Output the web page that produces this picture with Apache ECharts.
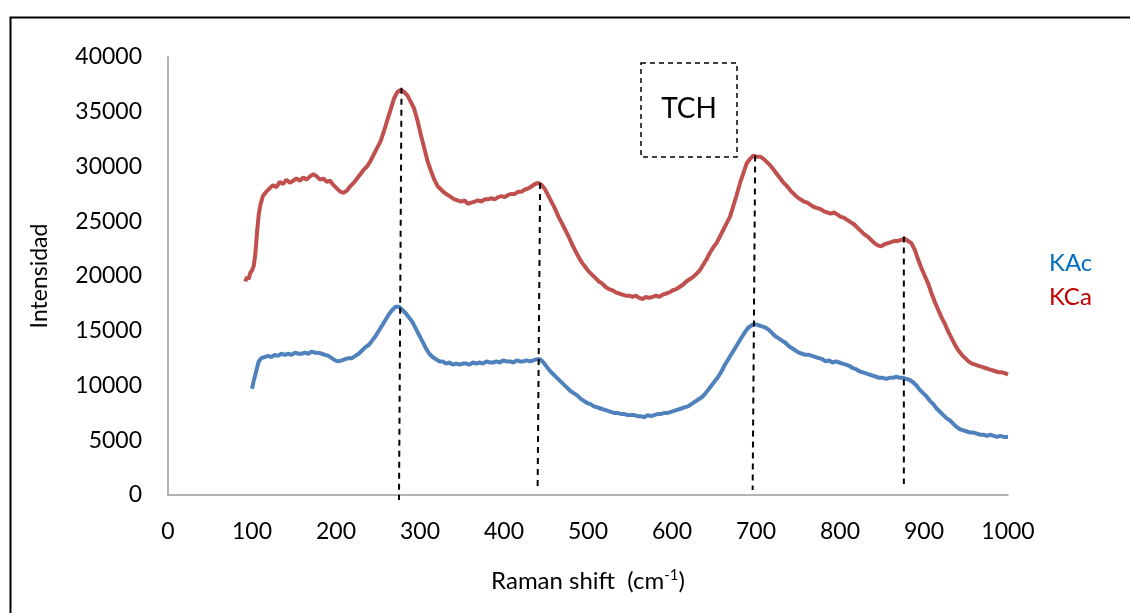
<!DOCTYPE html>
<html>
<head>
<meta charset="utf-8">
<script src="https://cdn.jsdelivr.net/npm/echarts@6/dist/echarts.min.js"></script>
<style>
  html, body { margin: 0; padding: 0; background: #fff; }
  #chart { width: 1130px; height: 613px; }
</style>
</head>
<body>
<div id="chart"></div>
<script>
// Raman spectra (Raman shift in cm-1, intensity in counts)
const kcaSpectrum = [
  [92,19500],[94,19900],[96,19700],[98,20300],[100,20500],[102,20900],[104,22000],[106,24000],[108,25600],[110,26500],
  [113,27300],[117,27700],[121,28000],[125,28300],[129,28100],[133,28600],[137,28400],[141,28800],[145,28500],[149,28700],
  [153,28900],[157,28700],[161,29000],[165,28800],[169,29100],[173,29300],[177,29100],[181,28800],[185,28900],[189,28600],
  [193,28700],[197,28300],[201,28000],[205,27700],[209,27600],[213,27800],[217,28200],[221,28500],[225,28900],[229,29300],
  [233,29700],[237,30000],[241,30500],[245,31100],[249,31700],[253,32300],[257,33200],[261,34200],[265,35200],[269,36200],
  [273,36800],[277,37000],[281,36800],[285,36500],[289,35900],[293,35300],[297,34200],[301,32900],[305,31700],[309,30500],
  [313,29600],[317,28800],[321,28200],[325,27900],[329,27600],[333,27400],[337,27200],[341,27000],[345,26900],[349,26800],
  [353,26900],[357,26600],[361,26700],[365,26800],[369,26900],[373,26800],[377,27000],[381,27000],[385,27100],[389,27000],
  [393,27200],[397,27300],[401,27200],[405,27400],[409,27500],[413,27500],[417,27700],[421,27700],[425,27900],[429,28000],
  [433,28200],[437,28400],[441,28500],[445,28300],[449,27900],[453,27300],[457,26700],[461,26100],[465,25400],[469,24800],
  [473,24200],[477,23600],[481,22900],[485,22300],[489,21700],[493,21200],[497,20800],[501,20400],[505,20100],[509,19800],
  [513,19500],[517,19300],[521,19000],[525,18800],[529,18700],[533,18500],[537,18400],[541,18300],[545,18200],[549,18200],
  [553,18100],[557,18200],[561,18000],[565,17900],[569,18100],[573,18000],[577,18100],[581,18200],[585,18100],[589,18300],
  [593,18400],[597,18500],[601,18700],[605,18800],[609,19000],[613,19200],[617,19500],[621,19700],[625,19900],[629,20200],
  [633,20500],[637,21000],[641,21500],[645,22100],[649,22600],[653,23000],[657,23600],[661,24200],[665,24800],[669,25400],
  [673,26400],[677,27400],[681,28500],[685,29400],[689,30300],[693,30700],[697,31000],[701,30900],[705,30900],[709,30700],
  [713,30400],[717,30100],[721,29700],[725,29300],[729,28900],[733,28500],[737,28200],[741,27800],[745,27500],[749,27200],
  [753,27000],[757,26800],[761,26700],[765,26500],[769,26300],[773,26200],[777,26100],[781,25900],[785,25800],[789,25700],
  [793,25800],[797,25600],[801,25400],[805,25300],[809,25100],[813,24900],[817,24700],[821,24400],[825,24100],[829,23800],
  [833,23600],[837,23300],[841,23000],[845,22800],[849,22700],[853,22900],[857,23000],[861,23100],[865,23200],[869,23200],
  [873,23300],[877,23400],[881,23200],[885,23000],[889,22400],[893,21500],[897,20700],[901,20000],[905,19300],[909,18400],
  [913,17600],[917,16900],[921,16200],[925,15600],[929,14900],[933,14300],[937,13700],[941,13200],[945,12800],[949,12500],
  [953,12200],[957,12000],[961,11900],[965,11800],[969,11700],[973,11600],[977,11500],[981,11400],[985,11300],[989,11200],
  [993,11200],[997,11100],[1000,11000]
];

const kacSpectrum = [
  [100,9700],[102,10400],[104,11000],[106,11600],[108,12200],[111,12500],[115,12600],[119,12700],[123,12600],[127,12800],
  [131,12700],[135,12900],[139,12800],[143,12900],[147,12800],[151,13000],[155,12900],[159,12900],[163,13000],[167,12900],
  [171,13100],[175,13000],[179,13000],[183,12900],[187,12800],[191,12700],[195,12500],[199,12300],[203,12200],[207,12300],
  [211,12400],[215,12500],[219,12500],[223,12700],[227,12900],[231,13200],[235,13500],[239,13700],[243,14100],[247,14500],
  [251,15000],[255,15500],[259,16000],[263,16500],[267,16900],[271,17200],[275,17200],[279,16900],[283,16600],[287,16200],
  [291,15800],[295,15200],[299,14600],[303,14000],[307,13400],[311,12900],[315,12600],[319,12400],[323,12200],[327,12200],
  [331,12000],[335,12100],[339,11900],[343,12000],[347,11900],[351,12000],[355,12000],[359,11900],[363,12100],[367,12000],
  [371,12100],[375,12000],[379,12200],[383,12100],[387,12100],[391,12200],[395,12100],[399,12300],[403,12200],[407,12200],
  [411,12100],[415,12300],[419,12200],[423,12200],[427,12300],[431,12200],[435,12300],[439,12400],[443,12400],[447,12100],
  [451,11700],[455,11300],[459,11000],[463,10700],[467,10400],[471,10100],[475,9800],[479,9500],[483,9300],[487,9100],
  [491,8800],[495,8600],[499,8400],[503,8300],[507,8100],[511,8000],[515,7900],[519,7800],[523,7700],[527,7600],
  [531,7500],[535,7500],[539,7400],[543,7400],[547,7300],[551,7300],[555,7300],[559,7200],[563,7200],[567,7100],
  [571,7300],[575,7200],[579,7300],[583,7400],[587,7400],[591,7500],[595,7500],[599,7600],[603,7700],[607,7800],
  [611,7900],[615,8000],[619,8100],[623,8300],[627,8500],[631,8700],[635,8900],[639,9200],[643,9600],[647,10000],
  [651,10400],[655,10800],[659,11300],[663,11900],[667,12400],[671,12900],[675,13400],[679,13900],[683,14400],[687,14900],
  [691,15300],[695,15500],[699,15600],[703,15500],[707,15400],[711,15300],[715,15100],[719,14800],[723,14500],[727,14300],
  [731,14100],[735,13900],[739,13600],[743,13400],[747,13200],[751,13000],[755,12900],[759,12800],[763,12800],[767,12700],
  [771,12600],[775,12500],[779,12400],[783,12200],[787,12300],[791,12100],[795,12200],[799,12100],[803,12000],[807,11900],
  [811,11800],[815,11600],[819,11500],[823,11300],[827,11200],[831,11100],[835,11000],[839,10900],[843,10800],[847,10700],
  [851,10700],[855,10600],[859,10700],[863,10700],[867,10800],[871,10700],[875,10700],[879,10600],[883,10500],[887,10300],
  [891,10000],[895,9600],[899,9300],[903,9000],[907,8600],[911,8300],[915,7900],[919,7600],[923,7300],[927,7000],
  [931,6800],[935,6500],[939,6200],[943,6000],[947,5900],[951,5800],[955,5700],[959,5700],[963,5600],[967,5500],
  [971,5500],[975,5400],[979,5500],[983,5400],[987,5300],[991,5400],[995,5300],[1000,5300]
];

// Dashed guides dropped from the shared band positions: [x at top, top intensity, x at foot, foot intensity]
const bandGuides = [
  [278, 37200, 275, -450],
  [443, 28500, 440, 450],
  [699, 31000, 696, 450],
  [876, 23600, 876, 1000]
];

const xTicks = { min: 0, max: 1000, interval: 100 };
const yTicks = { min: 0, max: 40000, interval: 5000 };

const FONT = 'Lato';

const chart = echarts.init(document.getElementById('chart'), null, { renderer: 'canvas' });

const guideSeries = bandGuides.map((g, i) => ({
  name: 'band' + i,
  type: 'line',
  data: [[g[0], g[1]], [g[2], g[3]]],
  symbol: 'none',
  clip: false,
  silent: true,
  z: 5,
  lineStyle: { color: '#000', width: 2, type: [6, 5] }
}));

const plainNumber = v => String(v);

chart.setOption({
  animation: false,
  backgroundColor: '#fff',
  grid: { left: 168, right: 122, top: 57, bottom: 118, containLabel: false },
  xAxis: {
    type: 'value',
    min: xTicks.min, max: xTicks.max, interval: xTicks.interval,
    axisLine: { show: true, onZero: false, lineStyle: { color: '#9a9a9a', width: 1.5 } },
    axisTick: { show: false },
    splitLine: { show: false },
    axisLabel: { color: '#000', fontFamily: FONT, fontSize: 23, margin: 25, formatter: plainNumber }
  },
  yAxis: {
    type: 'value',
    min: yTicks.min, max: yTicks.max, interval: yTicks.interval,
    name: 'Intensidad',
    nameLocation: 'middle',
    nameGap: 117,
    nameRotate: 90,
    nameTextStyle: { color: '#000', fontFamily: FONT, fontSize: 23 },
    axisLine: { show: true, lineStyle: { color: '#9a9a9a', width: 1.5 } },
    axisTick: { show: false },
    splitLine: { show: false },
    axisLabel: { color: '#000', fontFamily: FONT, fontSize: 23, margin: 26, formatter: plainNumber }
  },
  series: [
    {
      name: 'KCa',
      type: 'line',
      data: kcaSpectrum,
      symbol: 'none',
      z: 3,
      lineStyle: { color: '#C0504D', width: 4 }
    },
    {
      name: 'KAc',
      type: 'line',
      data: kacSpectrum,
      symbol: 'none',
      z: 3,
      lineStyle: { color: '#4F81BD', width: 4 }
    }
  ].concat(guideSeries),
  graphic: [
    // outer frame (open on the right and bottom)
    { type: 'rect', left: 8, top: 15, shape: { x: 0, y: 0, width: 1200, height: 700 },
      style: { fill: 'none', stroke: '#000', lineWidth: 2 }, silent: true },
    // sample label box
    { type: 'rect', shape: { x: 641, y: 63, width: 96, height: 94 },
      style: { fill: 'none', stroke: '#000', lineWidth: 1.5, lineDash: [5, 4] }, z: 10 },
    { type: 'text', x: 689, y: 109,
      style: { text: 'TCH', fill: '#000', font: '28px ' + FONT, align: 'center', verticalAlign: 'middle' }, z: 10 },
    // legend labels
    { type: 'text', x: 1049, y: 263,
      style: { text: 'KAc', fill: '#0070C0', font: '24px ' + FONT, align: 'left', verticalAlign: 'middle' } },
    { type: 'text', x: 1049, y: 297,
      style: { text: 'KCa', fill: '#C00000', font: '24px ' + FONT, align: 'left', verticalAlign: 'middle' } },
    // x axis title with superscript
    { type: 'text', x: 588, y: 581,
      style: {
        text: 'Raman shift  (cm{sup|-1})',
        rich: { sup: { fontSize: 15, fontFamily: FONT, fill: '#000', verticalAlign: 'top', padding: [0, 0, 12, 0] } },
        fill: '#000', font: '24px ' + FONT, align: 'center', verticalAlign: 'middle'
      } }
  ]
});
</script>
</body>
</html>
